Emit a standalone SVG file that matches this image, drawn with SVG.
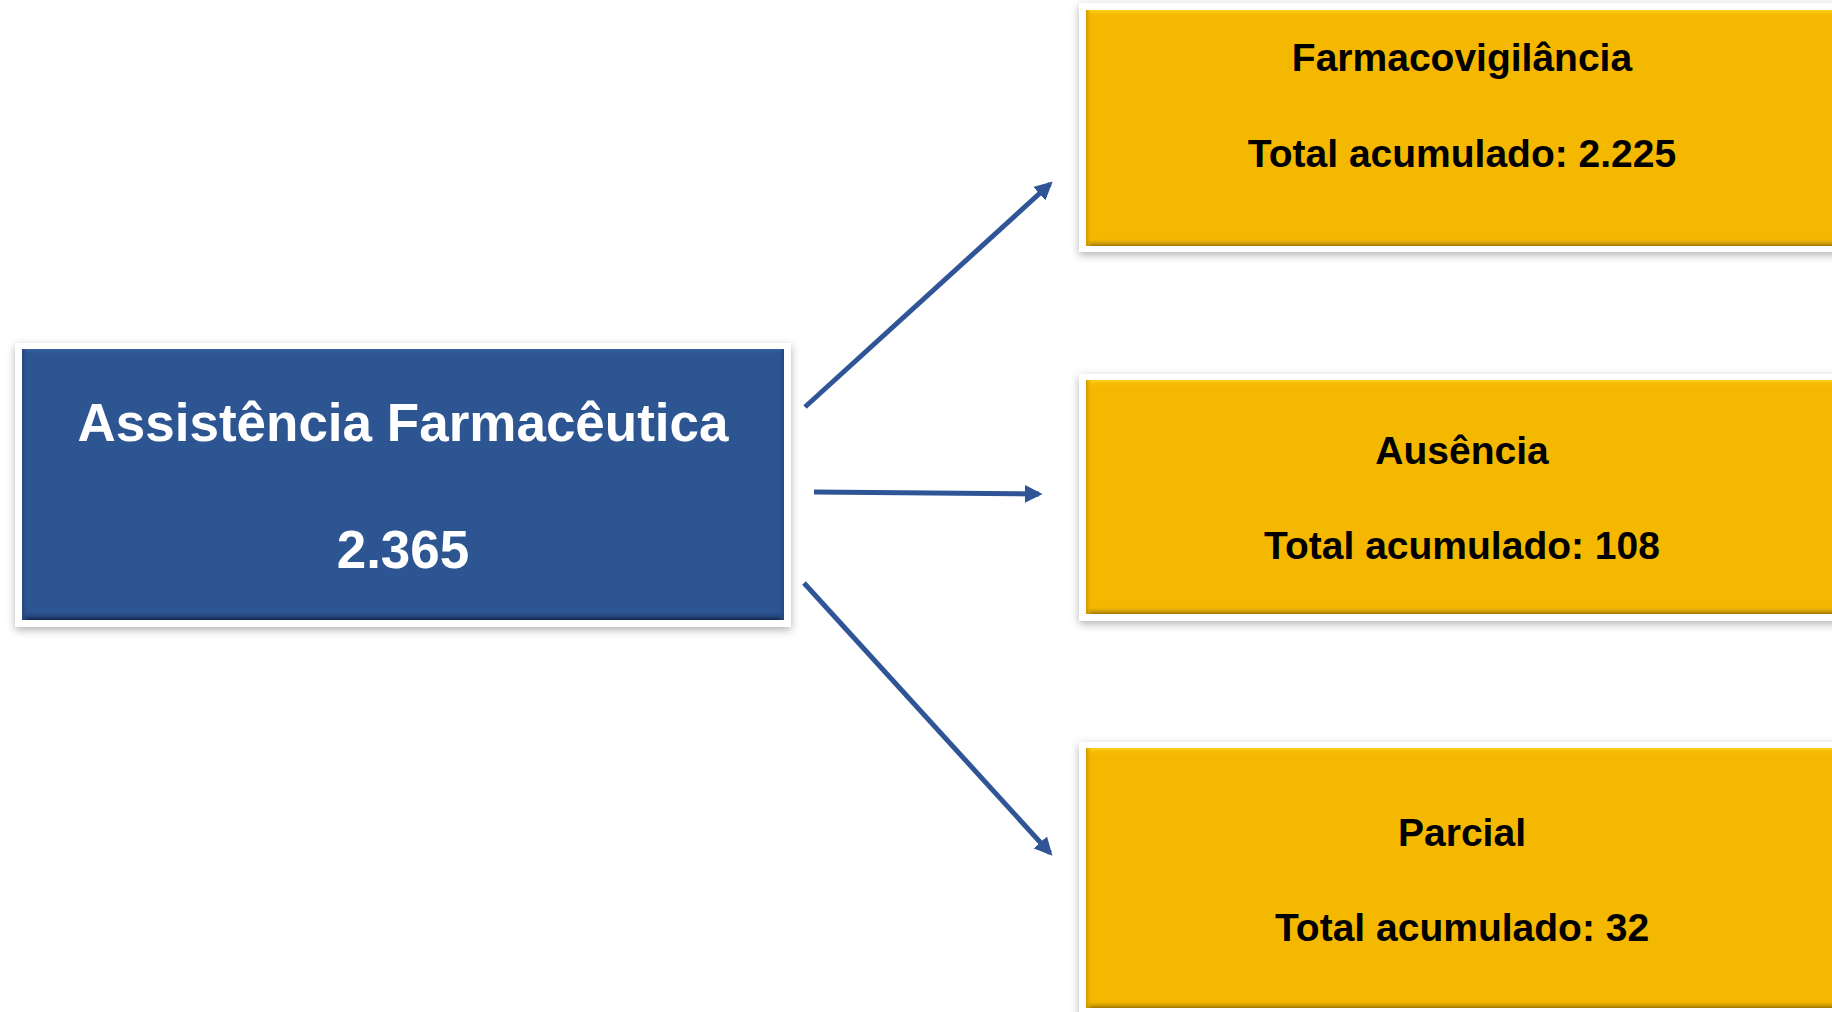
<svg xmlns="http://www.w3.org/2000/svg" width="1832" height="1012" viewBox="0 0 1832 1012">
  <defs>
    <filter id="sh" x="-5%" y="-10%" width="110%" height="125%">
      <feDropShadow dx="0" dy="3" stdDeviation="4" flood-color="#000" flood-opacity="0.3"/>
    </filter>
    <linearGradient id="ytop" x1="0" y1="0" x2="0" y2="1">
      <stop offset="0" stop-color="#FFD21A"/>
      <stop offset="1" stop-color="#F5B800" stop-opacity="0"/>
    </linearGradient>
    <linearGradient id="ybot" x1="0" y1="0" x2="0" y2="1">
      <stop offset="0" stop-color="#F5B800" stop-opacity="0"/>
      <stop offset="1" stop-color="#9C7600"/>
    </linearGradient>
    <linearGradient id="yleft" x1="0" y1="0" x2="1" y2="0">
      <stop offset="0" stop-color="#C99700"/>
      <stop offset="1" stop-color="#F5B800" stop-opacity="0"/>
    </linearGradient>
    <linearGradient id="btop" x1="0" y1="0" x2="0" y2="1">
      <stop offset="0" stop-color="#3A66A8"/>
      <stop offset="1" stop-color="#2D5592" stop-opacity="0"/>
    </linearGradient>
    <linearGradient id="bbot" x1="0" y1="0" x2="0" y2="1">
      <stop offset="0" stop-color="#2D5592" stop-opacity="0"/>
      <stop offset="1" stop-color="#10244A"/>
    </linearGradient>
    <linearGradient id="bleft" x1="0" y1="0" x2="1" y2="0">
      <stop offset="0" stop-color="#23467C"/>
      <stop offset="1" stop-color="#2D5592" stop-opacity="0"/>
    </linearGradient>
    <linearGradient id="bright" x1="1" y1="0" x2="0" y2="0">
      <stop offset="0" stop-color="#23467C"/>
      <stop offset="1" stop-color="#2D5592" stop-opacity="0"/>
    </linearGradient>
    <marker id="ah" viewBox="0 0 10 10" refX="8" refY="5" markerWidth="3.6" markerHeight="3.6" orient="auto" markerUnits="strokeWidth">
      <path d="M0,0 L10,5 L0,10 z" fill="#2F5597"/>
    </marker>
  </defs>
  <style>
    .frame { fill: #FFFFFF; filter: url(#sh); }
    .blue { fill: #2D5592; }
    .yellow { fill: #F5B800; }
    .wt { font-family: "Liberation Sans", Arial, sans-serif; font-weight: bold; fill: #FFFFFF; font-size: 53px; text-anchor: middle; }
    .bt { font-family: "Liberation Sans", Arial, sans-serif; font-weight: bold; fill: #000000; font-size: 39px; text-anchor: middle; }
    .conn { stroke: #2F5597; stroke-width: 5; fill: none; marker-end: url(#ah); }
  </style>
  <rect width="1832" height="1012" fill="#FFFFFF"/>

  <g id="node-assistencia">
    <rect class="frame" x="15" y="343" width="776" height="284"/>
    <rect class="blue" x="22" y="349" width="762" height="271"/>
    <rect x="22" y="349" width="762" height="6" fill="url(#btop)"/>
    <rect x="22" y="611" width="762" height="9" fill="url(#bbot)"/>
    <rect x="22" y="349" width="6" height="271" fill="url(#bleft)"/>
    <rect x="778" y="349" width="6" height="271" fill="url(#bright)"/>
    <text class="wt" x="403" y="441">Assistência Farmacêutica</text>
    <text class="wt" x="403" y="568">2.365</text>
  </g>

  <g id="node-farmacovigilancia">
    <rect class="frame" x="1079" y="3" width="766" height="249"/>
    <rect class="yellow" x="1086" y="10" width="752" height="236"/>
    <rect x="1086" y="10" width="752" height="7" fill="url(#ytop)"/>
    <rect x="1086" y="238" width="752" height="8" fill="url(#ybot)"/>
    <rect x="1086" y="10" width="6" height="236" fill="url(#yleft)"/>
    <text class="bt" x="1462" y="71">Farmacovigilância</text>
    <text class="bt" x="1462" y="167">Total acumulado: 2.225</text>
  </g>

  <g id="node-ausencia">
    <rect class="frame" x="1079" y="374" width="766" height="247"/>
    <rect class="yellow" x="1086" y="380" width="752" height="234"/>
    <rect x="1086" y="380" width="752" height="7" fill="url(#ytop)"/>
    <rect x="1086" y="606" width="752" height="8" fill="url(#ybot)"/>
    <rect x="1086" y="380" width="6" height="234" fill="url(#yleft)"/>
    <text class="bt" x="1462" y="464">Ausência</text>
    <text class="bt" x="1462" y="559">Total acumulado: 108</text>
  </g>

  <g id="node-parcial">
    <rect class="frame" x="1079" y="742" width="766" height="278"/>
    <rect class="yellow" x="1086" y="748" width="752" height="260"/>
    <rect x="1086" y="748" width="752" height="7" fill="url(#ytop)"/>
    <rect x="1086" y="1000" width="752" height="8" fill="url(#ybot)"/>
    <rect x="1086" y="748" width="6" height="260" fill="url(#yleft)"/>
    <text class="bt" x="1462" y="846">Parcial</text>
    <text class="bt" x="1462" y="941">Total acumulado: 32</text>
  </g>

  <g id="connectors">
    <line class="conn" x1="805" y1="407" x2="1050" y2="184"/>
    <line class="conn" x1="814" y1="492" x2="1039" y2="494"/>
    <line class="conn" x1="804" y1="583" x2="1050" y2="853"/>
  </g>
</svg>
